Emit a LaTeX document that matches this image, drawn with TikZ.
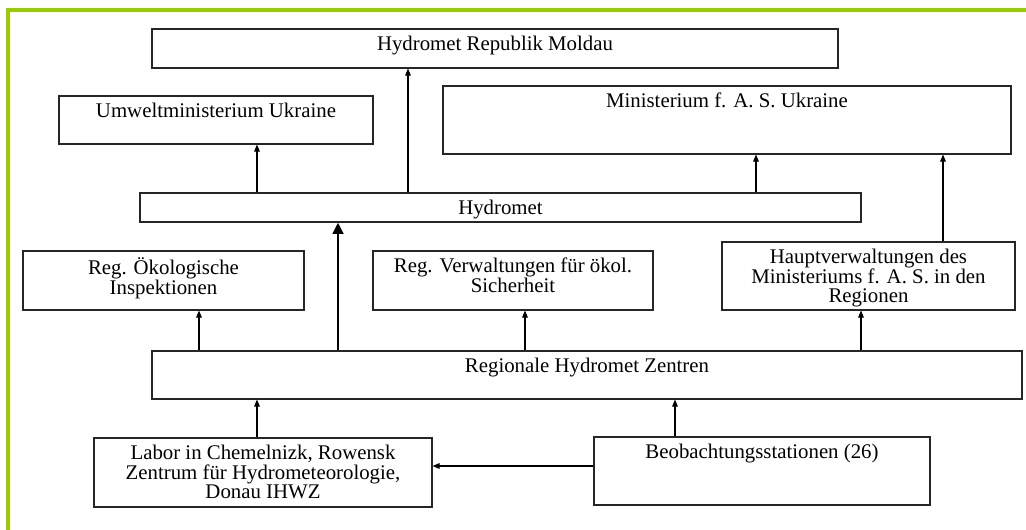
\documentclass[tikz,border=0pt]{standalone}
\usepackage{fontspec}
\setmainfont{Liberation Serif}
\usetikzlibrary{arrows.meta}
\definecolor{framegreen}{RGB}{153,204,0}

\begin{document}
\begin{tikzpicture}[line width=0.6pt,>={Triangle[length=4pt,width=3.2pt]},
  box/.style={draw=black!85,inner sep=0pt},
  txt/.style={anchor=north,align=center,inner sep=4pt,
    font=\fontsize{11.85}{11.2}\selectfont}]
  \useasboundingbox (0,0) rectangle (20.52,10.6);
  \draw[framegreen,line width=1.8pt] (0.16,0) -- (0.16,10.40) -- (20.52,10.40);

  % boxes, text at the top
  \node[box,minimum width=13.72cm,minimum height=0.78cm,
    label={[txt]north:Hydromet Republik Moldau}] (moldau) at (9.90,9.63) {};
  \node[box,minimum width=6.28cm,minimum height=0.96cm,
    label={[txt]north:Umweltministerium Ukraine}] (umwelt) at (4.32,8.20) {};
  \node[box,minimum width=11.36cm,minimum height=1.36cm,
    label={[txt]north:Ministerium f. A. S. Ukraine}] (minas) at (14.54,8.20) {};
  \node[box,minimum width=14.42cm,minimum height=0.58cm,
    label={[txt]north:Hydromet}] (hydromet) at (10.01,6.45) {};
  \node[box,minimum width=5.62cm,minimum height=1.18cm,
    label={[txt]north:Reg. Ökologische\\Inspektionen}] (oekol) at (3.27,4.99) {};
  \node[box,minimum width=5.60cm,minimum height=1.18cm,
    label={[txt]north:Reg. Verwaltungen für ökol.\\Sicherheit}] (verw) at (10.26,4.99) {};
  \node[box,minimum width=5.86cm,minimum height=1.36cm,
    label={[txt]north:Hauptverwaltungen des\\Ministeriums f. A. S. in den\\Regionen}] (haupt) at (17.37,5.08) {};
  \node[box,minimum width=17.40cm,minimum height=0.96cm,
    label={[txt]north:Regionale Hydromet Zentren}] (regional) at (11.74,3.10) {};
  \node[box,minimum width=6.76cm,minimum height=1.38cm,
    label={[txt]north:Labor in Chemelnizk, Rowensk\\Zentrum für Hydrometeorologie,\\Donau IHWZ}] (labor) at (5.26,1.15) {};
  \node[box,minimum width=6.72cm,minimum height=1.36cm,
    label={[txt]north:Beobachtungsstationen (26)}] (beob) at (15.24,1.18) {};

  % columns of the connectors
  \coordinate (xmoldau) at (8.16,0);
  \coordinate (xumwelt) at (5.14,0);
  \coordinate (xminas) at (15.12,0);
  \coordinate (xhauptup) at (18.86,0);
  \coordinate (xmain) at (6.76,0);
  \coordinate (xoekol) at (3.98,0);
  \coordinate (xverw) at (10.50,0);
  \coordinate (xhaupt) at (17.22,0);
  \coordinate (xbeob) at (13.50,0);
  \coordinate (ylabor) at (0,1.28);

  \draw[->] (hydromet.north -| xmoldau) -- (moldau.south -| xmoldau);
  \draw[->] (hydromet.north -| xumwelt) -- (umwelt.south -| xumwelt);
  \draw[->] (hydromet.north -| xminas) -- (minas.south -| xminas);
  \draw[->] (haupt.north -| xhauptup) -- (minas.south -| xhauptup);
  \draw[line width=1.7pt,-{Triangle[length=6.5pt,width=6pt]}]
    (regional.north -| xmain) -- (hydromet.south -| xmain);
  \draw[->] (regional.north -| xoekol) -- (oekol.south -| xoekol);
  \draw[->] (regional.north -| xverw) -- (verw.south -| xverw);
  \draw[->] (regional.north -| xhaupt) -- (haupt.south -| xhaupt);
  \draw[->] (labor.north -| xumwelt) -- (regional.south -| xumwelt);
  \draw[->] (beob.north -| xbeob) -- (regional.south -| xbeob);
  \draw[->] (beob.west |- ylabor) -- (labor.east |- ylabor);
\end{tikzpicture}
\end{document}
